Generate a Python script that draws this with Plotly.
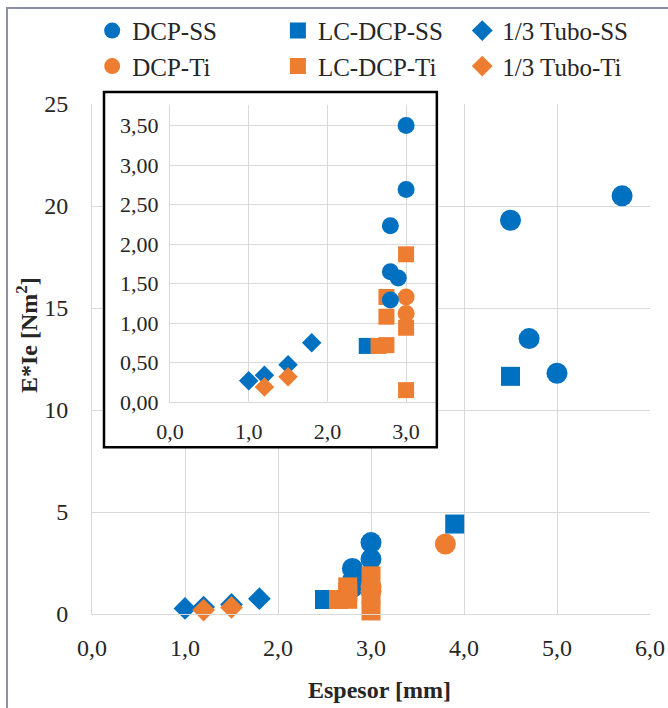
import plotly.graph_objects as go

# ---- data ----
dcp_ss_x = [4.5, 5.7, 4.7, 5.0, 3.0, 3.0, 2.8, 2.8, 2.9, 2.8]
dcp_ss_y = [19.3, 20.5, 13.5, 11.8, 3.50, 2.69, 2.23, 1.65, 1.57, 1.29]
lc_ss_x = [4.5, 3.9, 2.5]
lc_ss_y = [11.65, 4.41, 0.71]
tubo_ss_x = [1.0, 1.2, 1.5, 1.8]
tubo_ss_y = [0.27, 0.34, 0.47, 0.75]
dcp_ti_x = [3.8, 3.0, 3.0]
dcp_ti_y = [3.43, 1.33, 1.12]
lc_ti_x = [3.0, 2.75, 2.75, 3.0, 2.65, 2.75, 3.0]
lc_ti_y = [1.87, 1.33, 1.08, 0.94, 0.71, 0.72, 0.15]
tubo_ti_x = [1.2, 1.5]
tubo_ti_y = [0.19, 0.32]

x_ticks_main = [0, 1, 2, 3, 4, 5, 6]
y_ticks_main = [0, 5, 10, 15, 20, 25]
x_ticks_inset = [0, 1, 2, 3]
y_ticks_inset = [0, 0.5, 1.0, 1.5, 2.0, 2.5, 3.0, 3.5]

BLUE = "#0070C0"
ORANGE = "#ED7D31"
FONT = "'Liberation Serif', 'Times New Roman', Times, serif"

series = [
    ("DCP-SS", dcp_ss_x, dcp_ss_y, BLUE, "circle", "legend"),
    ("LC-DCP-SS", lc_ss_x, lc_ss_y, BLUE, "square", "legend2"),
    ("1/3 Tubo-SS", tubo_ss_x, tubo_ss_y, BLUE, "diamond", "legend3"),
    ("DCP-Ti", dcp_ti_x, dcp_ti_y, ORANGE, "circle", "legend"),
    ("LC-DCP-Ti", lc_ti_x, lc_ti_y, ORANGE, "square", "legend2"),
    ("1/3 Tubo-Ti", tubo_ti_x, tubo_ti_y, ORANGE, "diamond", "legend3"),
]
main_size = {"circle": 21, "square": 19, "diamond": 17.5}
inset_size = {"circle": 17, "square": 16, "diamond": 15}

fig = go.Figure()
for name, xs, ys, col, sym, lg in series:
    fig.add_trace(go.Scatter(
        x=xs, y=ys, mode="markers", name=name, legend=lg,
        marker=dict(color=col, symbol=sym, size=main_size[sym], line=dict(width=0)),
        cliponaxis=False, xaxis="x", yaxis="y", hoverinfo="x+y+name"))

inset_order = [1, 2, 5, 4, 3, 0]
for i in inset_order:
    name, xs, ys, col, sym, lg = series[i]
    fig.add_trace(go.Scatter(
        x=xs, y=ys, mode="markers", name=name, showlegend=False,
        marker=dict(color=col, symbol=sym, size=inset_size[sym], line=dict(width=0)),
        cliponaxis=True, xaxis="x2", yaxis="y2", hoverinfo="x+y+name"))

GRID = "#D9D9D9"
tickfont = dict(family=FONT, size=24, color="#262626")
inset_tickfont = dict(family=FONT, size=22, color="#262626")

legend_common = dict(
    orientation="v", yanchor="top", xanchor="left", y=0.989,
    xref="container", yref="container",
    bgcolor="rgba(0,0,0,0)", borderwidth=0, tracegroupgap=0,
    font=dict(family=FONT, size=25, color="#262626"), itemsizing="trace")

X_MAX, Y_MAX = 6, 25
fig.update_layout(
    width=668, height=708,
    margin=dict(l=92, r=18, t=104, b=94, autoexpand=False),
    paper_bgcolor="white", plot_bgcolor="white",
    separators=",.",
    font=dict(family=FONT, color="#262626"),
    xaxis=dict(range=[0, X_MAX], tickvals=x_ticks_main, tickformat=".1f",
               showgrid=True, gridcolor=GRID, gridwidth=1, zeroline=False,
               showline=True, linecolor=GRID, linewidth=1,
               tickfont=tickfont, ticks="", ticklabelstandoff=12),
    yaxis=dict(range=[0, Y_MAX], tickvals=y_ticks_main, tickformat="d",
               showgrid=True, gridcolor=GRID, gridwidth=1, zeroline=False,
               showline=True, linecolor=GRID, linewidth=1,
               tickfont=tickfont, ticks="", ticklabelstandoff=18),
    xaxis2=dict(domain=[0.1398, 0.6165], anchor="y2", range=[0, 3.38],
                tickvals=x_ticks_inset, tickformat=".1f",
                showgrid=True, gridcolor=GRID, gridwidth=1, zeroline=False,
                showline=True, linecolor=GRID, linewidth=1,
                tickfont=inset_tickfont, ticks="", ticklabelstandoff=10),
    yaxis2=dict(domain=[0.4157, 0.998], anchor="x2", range=[0, 3.76],
                tickvals=y_ticks_inset, tickformat=".2f",
                showgrid=True, gridcolor=GRID, gridwidth=1, zeroline=False,
                showline=True, linecolor=GRID, linewidth=1,
                tickfont=inset_tickfont, ticks="", ticklabelstandoff=6),
    legend=dict(x=0.138, **legend_common),
    legend2=dict(x=0.416, **legend_common),
    legend3=dict(x=0.692, **legend_common),
    showlegend=True,
)

# inset box position, as fractions of the main plot area
BOX = dict(x0=0.0215, x1=0.618, y0=0.327, y1=1.0235)

# white card behind inset (above main grid, below traces)
fig.add_shape(type="rect", xref="x", yref="y",
              x0=BOX["x0"] * X_MAX, x1=BOX["x1"] * X_MAX,
              y0=BOX["y0"] * Y_MAX, y1=1.05 * Y_MAX,
              fillcolor="white", line=dict(width=0), layer="between")
# inset black frame
fig.add_shape(type="rect", xref="paper", yref="paper", **BOX,
              fillcolor="rgba(0,0,0,0)", line=dict(color="black", width=2.5), layer="above")
# outer chart border (left and top visible)
fig.add_shape(type="rect", xref="paper", yref="paper",
              x0=-0.1523, x1=1.2, y0=-0.4, y1=1.188,
              fillcolor="rgba(0,0,0,0)", line=dict(color="#8C90A8", width=2), layer="above")

fig.add_annotation(text="<b>Espesor [mm]</b>", xref="paper", yref="paper",
                   x=0.515, y=-0.149, xanchor="center", yanchor="middle", showarrow=False,
                   font=dict(family=FONT, size=24, color="#262626"))
fig.add_annotation(text="<b>E*Ie [Nm<sup>2</sup>]</b>", xref="paper", yref="paper",
                   x=-0.1165, y=0.547, xanchor="center", yanchor="middle",
                   showarrow=False, textangle=-90,
                   font=dict(family=FONT, size=24, color="#262626"))

fig.write_html("out.html")
